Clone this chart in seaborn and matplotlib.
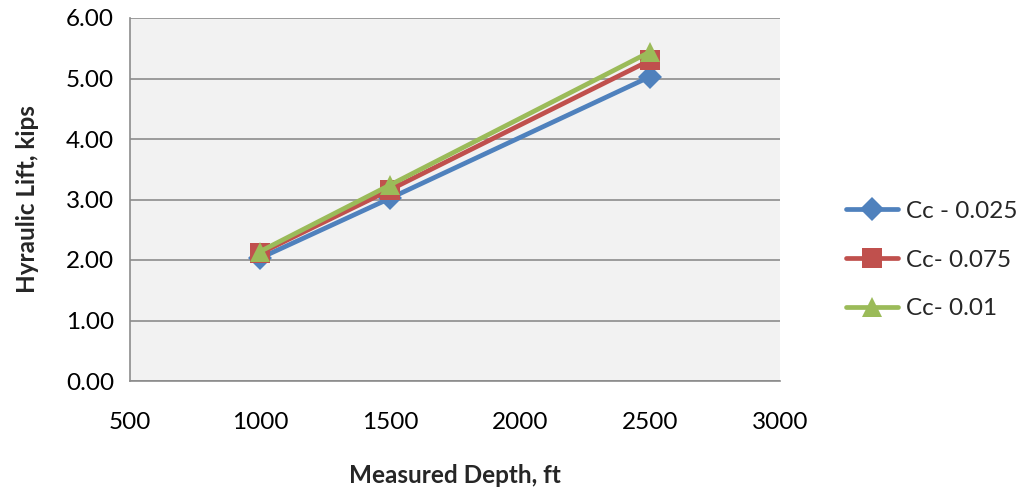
import matplotlib
matplotlib.use("Agg")
import matplotlib.pyplot as plt
import seaborn as sns
import pandas as pd

# Measured depth (ft) and hydraulic lift (kips) for each Cc value
depth = [1000, 1500, 2500]
lift_cc_0025 = [2.03, 3.02, 5.03]
lift_cc_0075 = [2.11, 3.16, 5.30]
lift_cc_001 = [2.14, 3.24, 5.44]
series_names = ["Cc - 0.025", "Cc- 0.075", "Cc- 0.01"]
y_ticks = [0, 1, 2, 3, 4, 5, 6]
x_ticks = [500, 1000, 1500, 2000, 2500, 3000]

rows = []
for name, vals in zip(series_names, [lift_cc_0025, lift_cc_0075, lift_cc_001]):
    for d, v in zip(depth, vals):
        rows.append({"depth": d, "lift": v, "series": name})
df = pd.DataFrame(rows)

sns.set_theme(style="white")
plt.rcParams["font.family"] = ["Lato", "DejaVu Sans"]

fig = plt.figure(figsize=(10.16, 4.88), dpi=100)
ax = fig.add_axes([130 / 1016, 1 - 381 / 488, 650 / 1016, 363 / 488])
ax.set_facecolor("#F2F2F2")

palette = {"Cc - 0.025": "#4F81BD", "Cc- 0.075": "#C0504D", "Cc- 0.01": "#9BBB59"}
markers = {"Cc - 0.025": "D", "Cc- 0.075": "s", "Cc- 0.01": "^"}
sizes = {"Cc - 0.025": 12, "Cc- 0.075": 14, "Cc- 0.01": 14.5}

for name in series_names:
    sub = df[df["series"] == name]
    sns.lineplot(data=sub, x="depth", y="lift", ax=ax, color=palette[name],
                 marker=markers[name], markersize=sizes[name], markeredgewidth=0,
                 linewidth=3.4, label=name, zorder=3)

ax.set_xlim(500, 3000)
ax.set_ylim(0, 6)
ax.set_xticks(x_ticks)
ax.set_yticks(y_ticks)
ax.set_yticklabels([f"{v:.2f}" for v in y_ticks])
ax.set_xticklabels([str(v) for v in x_ticks])
ax.yaxis.grid(True, color="#8C8C8C", linewidth=1.2)
ax.xaxis.grid(False)
ax.set_axisbelow(True)

for side in ["top", "right"]:
    ax.spines[side].set_visible(False)
for side in ["left", "bottom"]:
    ax.spines[side].set_color("#8C8C8C")
    ax.spines[side].set_linewidth(1.2)

ax.tick_params(axis="both", which="both", direction="out", length=5.5, width=1.2,
               color="#8C8C8C", labelsize=17.5, labelcolor="black")
ax.tick_params(axis="x", pad=17)
ax.tick_params(axis="y", pad=6)

ax.set_xlabel("Measured Depth, ft", fontsize=17.5, fontweight="bold", va="center")
ax.xaxis.set_label_coords(0.5, (381 - 476) / 363)
ax.set_ylabel("Hyraulic Lift, kips", fontsize=17.5, fontweight="bold", va="center")
ax.yaxis.set_label_coords((28 - 130) / 650, 0.5)

leg = ax.legend(loc="center left", bbox_to_anchor=((846 - 130) / 650, (381 - 260) / 363),
                frameon=False, fontsize=17.5, handlelength=2.15, labelspacing=1.14,
                handletextpad=0.3, borderaxespad=0, borderpad=0)

fig.savefig("out.png", dpi=100, facecolor="white")
